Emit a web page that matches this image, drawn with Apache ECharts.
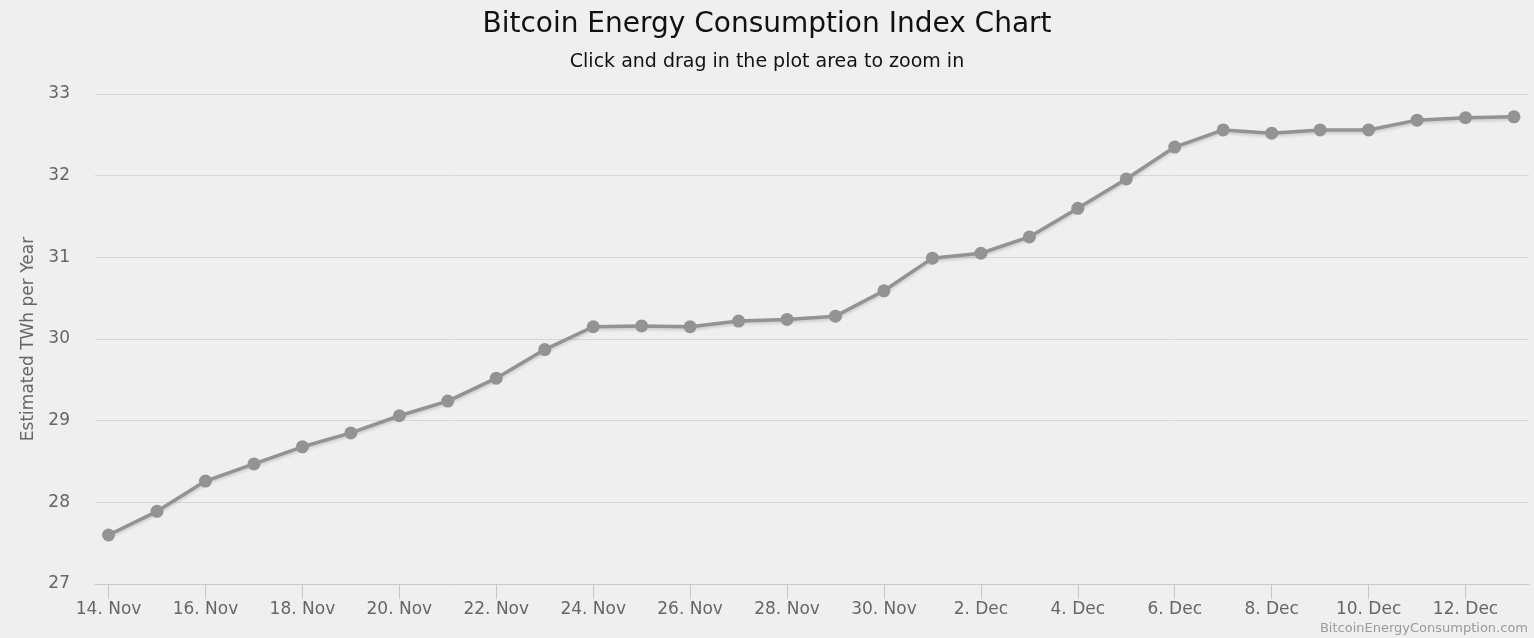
<!DOCTYPE html>
<html>
<head>
<meta charset="utf-8">
<script src="https://cdn.jsdelivr.net/npm/echarts@6/dist/echarts.min.js"></script>
<style>
html,body{margin:0;padding:0;background:#efefef;}
#c{width:1534px;height:638px;}
</style>
</head>
<body>
<div id="c"></div>
<script>
const dates = ['14. Nov','15. Nov','16. Nov','17. Nov','18. Nov','19. Nov','20. Nov','21. Nov','22. Nov','23. Nov',
  '24. Nov','25. Nov','26. Nov','27. Nov','28. Nov','29. Nov','30. Nov','1. Dec','2. Dec','3. Dec',
  '4. Dec','5. Dec','6. Dec','7. Dec','8. Dec','9. Dec','10. Dec','11. Dec','12. Dec','13. Dec'];
const values = [27.60,27.89,28.26,28.47,28.68,28.85,29.06,29.24,29.52,29.87,
  30.15,30.16,30.15,30.22,30.24,30.28,30.59,30.99,31.05,31.25,
  31.60,31.96,32.35,32.56,32.52,32.56,32.56,32.68,32.71,32.72];
const xTickIdx = [0,2,4,6,8,10,12,14,16,18,20,22,24,26,28];
const yTicks = [27,28,29,30,31,32,33];

const chart = echarts.init(document.getElementById('c'));
const FONT = 'DejaVu Sans';
chart.setOption({
  backgroundColor: '#efefef',
  animation: false,
  title: [{
    text: 'Bitcoin Energy Consumption Index Chart',
    subtext: 'Click and drag in the plot area to zoom in',
    left: 'center', top: 6,
    textStyle: {fontFamily: FONT, fontSize: 28, fontWeight: 'normal', color: '#111'},
    subtextStyle: {fontFamily: FONT, fontSize: 19, color: '#111'},
    itemGap: 14
  }],
  graphic: [{
    type: 'text', right: 6, bottom: 3,
    style: {text: 'BitcoinEnergyConsumption.com', fontFamily: FONT, fontSize: 13, fill: '#999'}
  }],
  grid: {left: 95, right: 5, top: 94, bottom: 54},
  xAxis: {
    type: 'value',
    min: -0.28, max: 29.31,
    splitLine: {show: false},
    axisLine: {show: true, lineStyle: {color: '#c8c8c8', width: 1}},
    axisTick: {show: true, length: 15, customValues: xTickIdx, lineStyle: {color: '#c8c8c8'}},
    axisLabel: {
      customValues: xTickIdx, margin: 17,
      fontFamily: FONT, fontSize: 17, color: '#666',
      formatter: v => dates[Math.round(v)]
    }
  },
  yAxis: {
    type: 'value', min: 27, max: 33, interval: 1,
    name: 'Estimated TWh per Year', nameLocation: 'middle', nameGap: 58,
    nameTextStyle: {fontFamily: FONT, fontSize: 17, color: '#666'},
    axisLine: {show: false}, axisTick: {show: false},
    axisLabel: {margin: 25, fontFamily: FONT, fontSize: 17, color: '#666', padding: [5, 0, 0, 0]},
    splitLine: {lineStyle: {color: '#d6d6d6', width: 1}}
  },
  series: [{
    type: 'line',
    data: values.map((v, i) => [i, v]),
    symbol: 'circle', symbolSize: 13,
    itemStyle: {color: '#939393'},
    lineStyle: {color: '#939393', width: 3.5, shadowColor: 'rgba(0,0,0,0.15)', shadowBlur: 3, shadowOffsetY: 2},
    z: 3
  }]
});
</script>
</body>
</html>
